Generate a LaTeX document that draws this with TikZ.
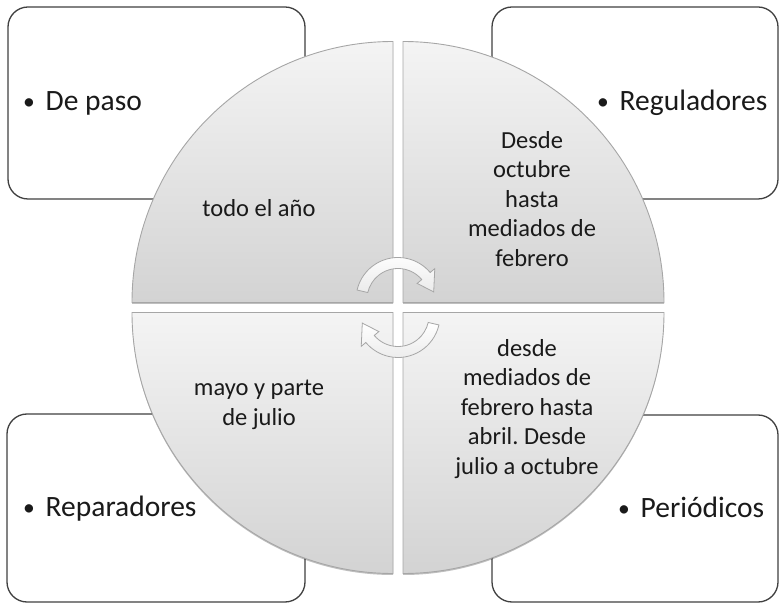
\documentclass[tikz,border=0pt]{standalone}
\usepackage{fontspec}
\setmainfont{Carlito}
\usetikzlibrary{shadows}
\definecolor{boxline}{HTML}{404040}
\definecolor{qtop}{HTML}{F4F4F4}
\definecolor{qbot}{HTML}{D3D3D3}
\definecolor{qline}{HTML}{A6A6A6}
\definecolor{txt}{HTML}{1A1A1A}
\newcommand{\bul}{\makebox[22.5pt][l]{\raisebox{1pt}{\scalebox{0.8}{•}}}}
\begin{document}
\frenchspacing
\begin{tikzpicture}[x=1pt,y=1pt,
  labelbox/.style={draw=boxline, line width=1.3pt, rounded corners=20pt, fill=white, inner sep=0pt},
  quad/.style={top color=qtop, bottom color=qbot, draw=qline, line width=0.9pt,
    drop shadow={shadow xshift=0pt, shadow yshift=-1.5pt, opacity=0.25, fill=black}},
  cyc/.style={top color=white, bottom color=qtop!70!qbot, draw=qline, line width=0.8pt},
  lbl/.style={font=\fontsize{29.5}{35}\selectfont, text=txt, inner sep=0pt, anchor=base west},
  inner/.style={font=\fontsize{24.5}{29.5}\selectfont, text=txt, align=center}]
\useasboundingbox (0,0) rectangle (780,603);
% corner boxes
\node[labelbox, minimum width=297pt, minimum height=192pt] (btl) at (156.5,500) {};
\node[labelbox, minimum width=286pt, minimum height=192pt] (btr) at (635,500) {};
\node[labelbox, minimum width=298pt, minimum height=188pt] (bbl) at (156,95) {};
\node[labelbox, minimum width=286pt, minimum height=187pt] (bbr) at (635,94.5) {};
% quadrants
\path[quad] (393,300.5) -- (132,300.5) arc[start angle=180,end angle=90,radius=261pt] -- cycle;
\path[quad] (403,300.5) -- (403,561.5) arc[start angle=90,end angle=0,radius=261pt] -- cycle;
\path[quad] (393,290.5) -- (132,290.5) arc[start angle=180,end angle=270,radius=261pt] -- cycle;
\path[quad] (403,290.5) -- (664,290.5) arc[start angle=0,end angle=-90,radius=261pt] -- cycle;
% cycle arrows
\begin{scope}[shift={(398,303.5)}]
\path[cyc] (167:42pt) arc[start angle=167,end angle=40,radius=42pt] -- (40:48pt) -- (12:36.5pt) -- (40:25pt) -- (40:31pt) arc[start angle=40,end angle=167,radius=31pt] -- cycle;
\end{scope}
\begin{scope}[shift={(398,287.5)}]
\path[cyc] (-13:42pt) arc[start angle=-13,end angle=-140,radius=42pt] -- (220:48pt) -- (192:36.5pt) -- (220:25pt) -- (220:31pt) arc[start angle=220,end angle=347,radius=31pt] -- cycle;
\end{scope}
% quadrant texts
\node[inner] (t1) at (259,395) {todo el año};
\node[inner] (t2) at (532,404) {Desde\\octubre\\hasta\\mediados de\\febrero};
\node[inner] (t3) at (527,194) {desde\\mediados de\\febrero hasta\\abril. Desde\\julio a octubre};
\node[inner] (t4) at (259,198) {mayo y parte\\de julio};
% box labels
\node[lbl] (l1) at (23,492) {\bul De paso};
\node[lbl] (l2) at (597,492) {\bul Reguladores};
\node[lbl] (l3) at (23,86) {\bul Reparadores};
\node[lbl] (l4) at (618,85) {\bul Periódicos};
\end{tikzpicture}
\end{document}
